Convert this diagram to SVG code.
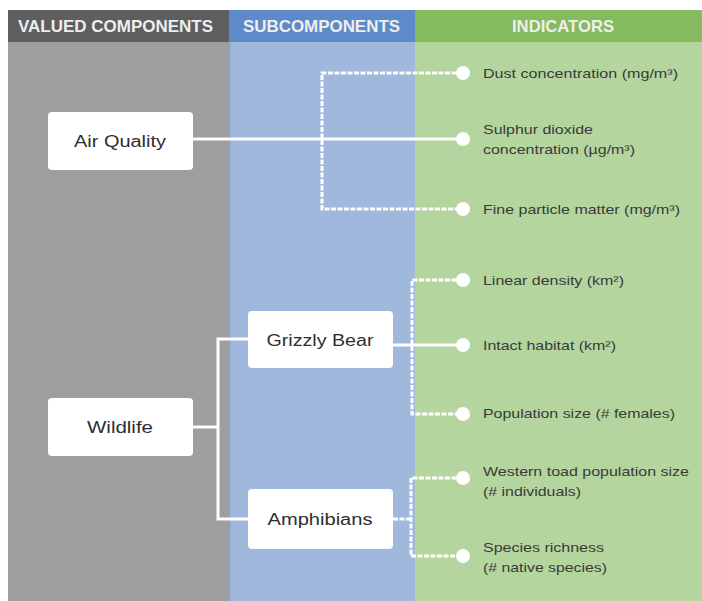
<svg xmlns="http://www.w3.org/2000/svg" width="702" height="601" viewBox="0 0 702 601">
<style>
.hdr{font-family:"Liberation Sans","DejaVu Sans",sans-serif;font-size:17px;font-weight:bold;fill:#eeeeee;}
.node rect{fill:#ffffff;}
.node text{font-family:"Liberation Sans","DejaVu Sans",sans-serif;font-size:16px;fill:#2e2e2e;text-anchor:middle;}
.ind{font-family:"Liberation Sans","DejaVu Sans",sans-serif;font-size:13px;fill:#3a3a3a;}
.solid{stroke:#ffffff;stroke-width:3;fill:none;}
.dash{stroke:#ffffff;stroke-width:3;fill:none;stroke-dasharray:5 1.5;}
.dot{fill:#ffffff;}
</style>
<rect x="0" y="0" width="702" height="601" fill="#ffffff"/>
<g id="columns">
<rect x="8" y="10" width="221" height="32" fill="#5d5e60"/>
<rect x="229" y="10" width="186" height="32" fill="#5d8ac8"/>
<rect x="415" y="10" width="287" height="32" fill="#84bb5f"/>
<rect x="8" y="42" width="222" height="559" fill="#9e9d9f"/>
<rect x="230" y="42" width="185" height="559" fill="#9fb8dc"/>
<rect x="415" y="42" width="287" height="559" fill="#b4d59e"/>
<line x1="230" y1="42" x2="230" y2="601" stroke="#8ea8cc" stroke-width="1.5"/>
<text class="hdr" x="18" y="32" textLength="195" lengthAdjust="spacingAndGlyphs">VALUED COMPONENTS</text>
<text class="hdr" x="243" y="32" textLength="157" lengthAdjust="spacingAndGlyphs">SUBCOMPONENTS</text>
<text class="hdr" x="512" y="32" textLength="102" lengthAdjust="spacingAndGlyphs">INDICATORS</text>
</g>
<g id="connectors">
<line class="solid" x1="193" y1="139" x2="463" y2="139"/>
<polyline class="dash" points="463,73 322,73 322,209 463,209"/>
<polyline class="solid" points="193,427 218,427"/>
<polyline class="solid" points="248,339 218,339 218,519 248,519"/>
<line class="solid" x1="393" y1="345" x2="463" y2="345"/>
<polyline class="dash" points="463,280 412,280 412,414 463,414"/>
<polyline class="dash" points="463,478 411,478 411,556 463,556"/>
<line class="dash" x1="393" y1="519" x2="411" y2="519"/>
</g>
<g id="dots">
<circle class="dot" cx="463" cy="73" r="7"/>
<circle class="dot" cx="463" cy="139" r="7"/>
<circle class="dot" cx="463" cy="209" r="7"/>
<circle class="dot" cx="463" cy="280" r="7"/>
<circle class="dot" cx="463" cy="345" r="7"/>
<circle class="dot" cx="463" cy="414" r="7"/>
<circle class="dot" cx="463" cy="478" r="7"/>
<circle class="dot" cx="463" cy="556" r="7"/>
</g>
<g id="air-quality" class="node">
<rect x="48" y="112" width="145" height="58" rx="4"/>
<text x="120" y="147" textLength="92" lengthAdjust="spacingAndGlyphs">Air Quality</text>
</g>
<g id="wildlife" class="node">
<rect x="48" y="398" width="145" height="58" rx="4"/>
<text x="120" y="433" textLength="66" lengthAdjust="spacingAndGlyphs">Wildlife</text>
</g>
<g id="grizzly-bear" class="node">
<rect x="248" y="311" width="145" height="57" rx="4"/>
<text x="320" y="346" textLength="107" lengthAdjust="spacingAndGlyphs">Grizzly Bear</text>
</g>
<g id="amphibians" class="node">
<rect x="248" y="489" width="145" height="60" rx="4"/>
<text x="320" y="525" textLength="105" lengthAdjust="spacingAndGlyphs">Amphibians</text>
</g>
<g id="ind-dust"><text class="ind" x="483" y="78" textLength="195" lengthAdjust="spacingAndGlyphs">Dust concentration (mg/m³)</text></g>
<g id="ind-so2"><text class="ind" x="483" y="134" textLength="110" lengthAdjust="spacingAndGlyphs">Sulphur dioxide</text><text class="ind" x="483" y="154" textLength="152" lengthAdjust="spacingAndGlyphs">concentration (µg/m³)</text></g>
<g id="ind-fine"><text class="ind" x="483" y="214" textLength="197" lengthAdjust="spacingAndGlyphs">Fine particle matter (mg/m³)</text></g>
<g id="ind-linear"><text class="ind" x="483" y="285" textLength="141" lengthAdjust="spacingAndGlyphs">Linear density (km²)</text></g>
<g id="ind-intact"><text class="ind" x="483" y="350" textLength="133" lengthAdjust="spacingAndGlyphs">Intact habitat (km²)</text></g>
<g id="ind-pop"><text class="ind" x="483" y="418" textLength="192" lengthAdjust="spacingAndGlyphs">Population size (# females)</text></g>
<g id="ind-toad"><text class="ind" x="483" y="476" textLength="206" lengthAdjust="spacingAndGlyphs">Western toad population size</text><text class="ind" x="483" y="496" textLength="98" lengthAdjust="spacingAndGlyphs">(# individuals)</text></g>
<g id="ind-species"><text class="ind" x="483" y="552" textLength="121" lengthAdjust="spacingAndGlyphs">Species richness</text><text class="ind" x="483" y="572" textLength="124" lengthAdjust="spacingAndGlyphs">(# native species)</text></g>
</svg>
